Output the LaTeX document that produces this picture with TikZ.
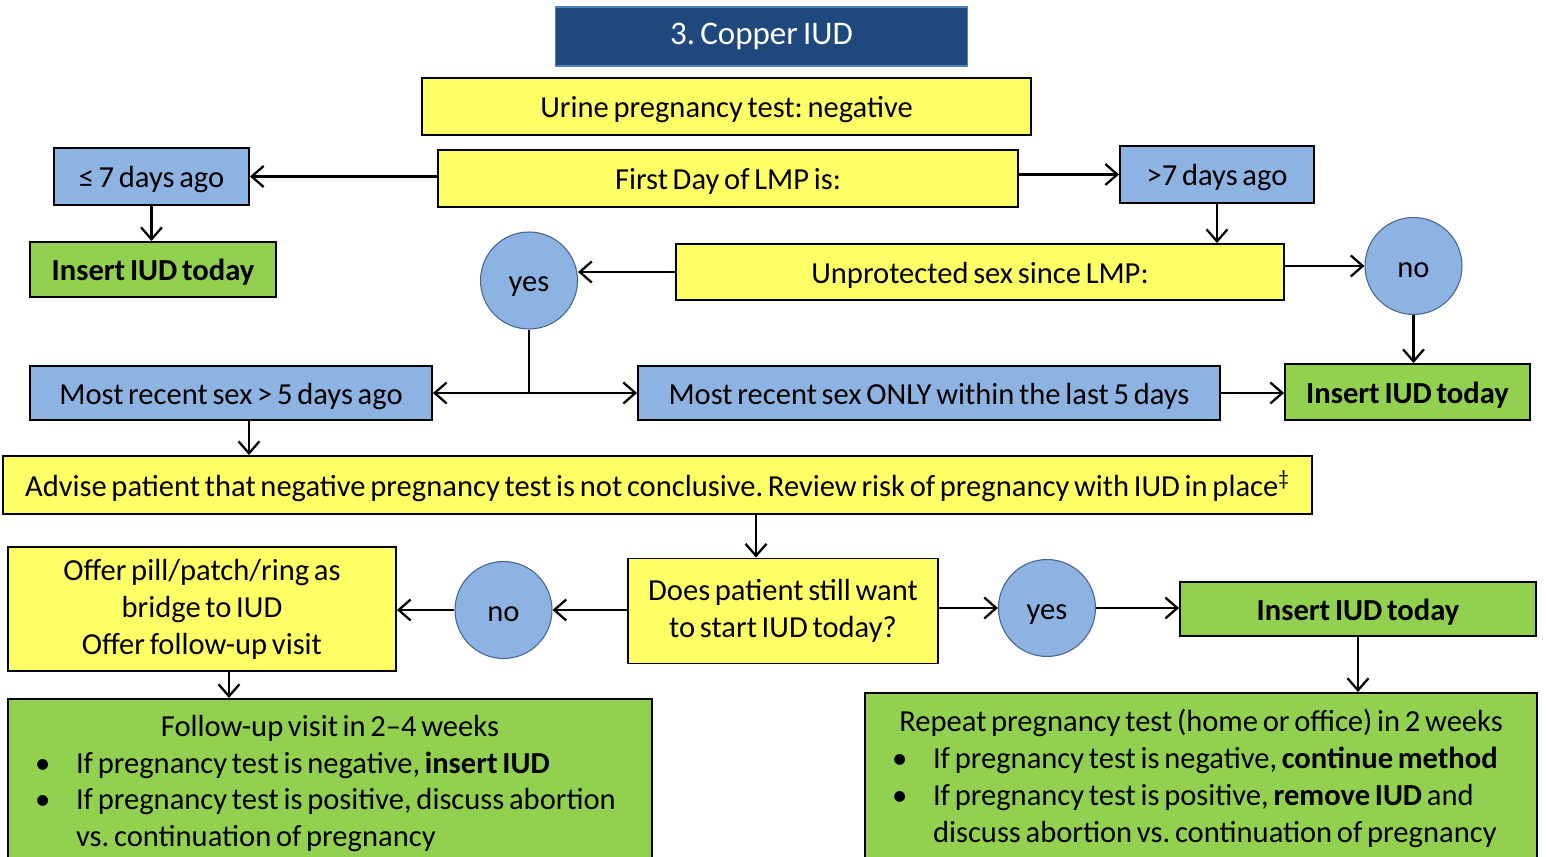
\documentclass[tikz,border=0pt]{standalone}
\usepackage{fontspec}
\setmainfont{Carlito}[WordSpace=0.68]
\usetikzlibrary{arrows.meta}
\setlength\parindent{0pt}
\frenchspacing
\definecolor{ctitle}{RGB}{31,73,125}
\definecolor{ctitleb}{RGB}{79,129,189}
\definecolor{cyel}{RGB}{255,255,102}
\definecolor{cblu}{RGB}{141,179,226}
\definecolor{cgrn}{RGB}{146,208,80}
\definecolor{cring}{RGB}{70,100,140}
\newcommand\normsp{\spaceskip=0pt\xspaceskip=0pt\relax}
\newcommand\bul{\hangindent=1.36cm\hangafter=1\makebox[1.36cm][l]{\hspace{0.54cm}\textbullet}}
\begin{document}
\begin{tikzpicture}[x=0.02cm,y=-0.02cm,font=\fontsize{17.4}{21}\selectfont,
  box/.style={draw=black,line width=1.1pt,inner sep=0pt},
  one/.style={text height=17.5pt,text depth=4.5pt},
  ybox/.style={box,one,fill=cyel},
  bbox/.style={box,one,fill=cblu},
  gbox/.style={box,one,fill=cgrn},
  ring/.style={circle,one,draw=cring,line width=0.6pt,fill=cblu,minimum size=1.94cm,inner sep=0pt},
  arr/.style={line width=1.3pt,-{Straight Barb[length=2.4mm,width=4.2mm]}}]
 \useasboundingbox (0,0) rectangle (1546,857);
 \clip (0,0) rectangle (1546,857);
 % top part
 \node[box,fill=ctitle,draw=ctitleb,line width=0.6pt,text=white,minimum width=8.26cm,minimum height=1.18cm,
   font=\fontsize{18.8}{22}\selectfont] (title) at (761.5,36.5) {3. Copper IUD};
 \node[ybox,minimum width=12.18cm,minimum height=1.14cm] (urine) at (726.5,106.5) {Urine pregnancy test: negative};
 \node[ybox,minimum width=11.6cm,minimum height=1.14cm] (lmp) at (728,178.5) {First Day of LMP is:};
 \node[bbox,minimum width=3.9cm,minimum height=1.14cm] (early) at (151.5,176.5) {≤ 7 days ago};
 \node[bbox,minimum width=3.88cm,minimum height=1.14cm] (late) at (1217,174.5) {>7 days ago};
 \node[gbox,minimum width=4.92cm,minimum height=1.1cm] (insA) at (153,269.5) {\textbf{Insert IUD today}};
 \node[ring] (yesA) at (529,280.5) {yes};
 \node[ybox,minimum width=12.16cm,minimum height=1.12cm] (unprot) at (980,272) {Unprotected sex since LMP:};
 \node[ring] (noA) at (1413.5,266) {no};
 \node[bbox,minimum width=8.04cm,minimum height=1.08cm] (older) at (231,393) {Most recent sex > 5 days ago};
 \node[bbox,minimum width=11.64cm,minimum height=1.08cm] (recent) at (929,393) {Most recent sex ONLY within the last 5 days};
 \node[gbox,minimum width=4.9cm,minimum height=1.12cm] (insB) at (1407.5,392) {\textbf{Insert IUD today}};
 % lower part
 \node[ybox,minimum width=26.18cm,minimum height=1.16cm] (advise) at (657.5,485)
   {Advise patient that negative pregnancy test is not conclusive. Review risk of pregnancy with IUD in place\textsuperscript{‡}};
 \node[box,fill=cyel,text width=7.76cm,minimum height=2.48cm] (offer) at (202,609)
   {\normsp\centering Offer pill/patch/ring as\\bridge to IUD\\Offer follow-up visit\par};
 \node[ring] (noB) at (503.5,610) {no};
 \node[box,fill=cyel,text width=6.2cm,minimum height=2.1cm] (ask) at (783,611)
   {\normsp\centering Does patient still want\\to start IUD today?\par};
 \node[ring] (yesB) at (1047,608) {yes};
 \node[gbox,minimum width=7.12cm,minimum height=1.08cm] (insC) at (1358,609) {\textbf{Insert IUD today}};
 \node[box,fill=cgrn,anchor=north,text width=12.88cm,inner ysep=0.32cm] (follow) at (330,698)
   {\normsp{\centering Follow-up visit in 2–4 weeks\par}
    \raggedright
    \bul If pregnancy test is negative, \textbf{insert IUD}\par
    \bul If pregnancy test is positive, discuss abortion\newline vs. continuation of pregnancy\par
    \vspace*{12pt}};
 \node[box,fill=cgrn,anchor=north,text width=13.44cm,inner ysep=0.32cm] (retest) at (1201,692)
   {\normsp{\centering Repeat pregnancy test (home or office) in 2 weeks\par}
    \raggedright
    \bul If pregnancy test is negative, \textbf{continue method}\par
    \bul If pregnancy test is positive, \textbf{remove IUD} and\newline discuss abortion vs. continuation of pregnancy\par
    \vspace*{12pt}};
 % connectors
 \draw[arr] (lmp.west |- early.east) -- (early.east);
 \draw[arr] (lmp.east |- late.west) -- (late.west);
 \draw[arr] (early.south) -- (early.south |- insA.north);
 \draw[arr] (late.south) -- (late.south |- unprot.north);
 \draw[arr] (unprot.west) -- (unprot.west -| yesA.east);
 \draw[arr] (unprot.east |- noA.west) -- (noA.west);
 \draw[arr] (noA.south) -- (noA.south |- insB.north);
 \coordinate (split) at (yesA.south |- older.east);
 \draw[arr] (yesA.south) -- (split) -- (older.east);
 \draw[arr] (split) -- (recent.west);
 \draw[arr] (recent.east) -- (recent.east -| insB.west);
 \coordinate (oldout) at ([xshift=0.36cm]older.south);
 \draw[arr] (oldout) -- (oldout |- advise.north);
 \coordinate (askin) at ([xshift=-0.54cm]ask.north);
 \draw[arr] (askin |- advise.south) -- (askin);
 \draw[arr] (ask.west |- noB.east) -- (noB.east);
 \draw[arr] (noB.west) -- (noB.west -| offer.east);
 \draw[arr] (ask.east |- yesB.west) -- (yesB.west);
 \draw[arr] (yesB.east) -- (yesB.east -| insC.west);
 \draw[arr] (insC.south) -- (insC.south |- retest.north);
 \coordinate (offout) at ([xshift=0.54cm]offer.south);
 \draw[arr] (offout) -- (offout |- follow.north);
\end{tikzpicture}
\end{document}
